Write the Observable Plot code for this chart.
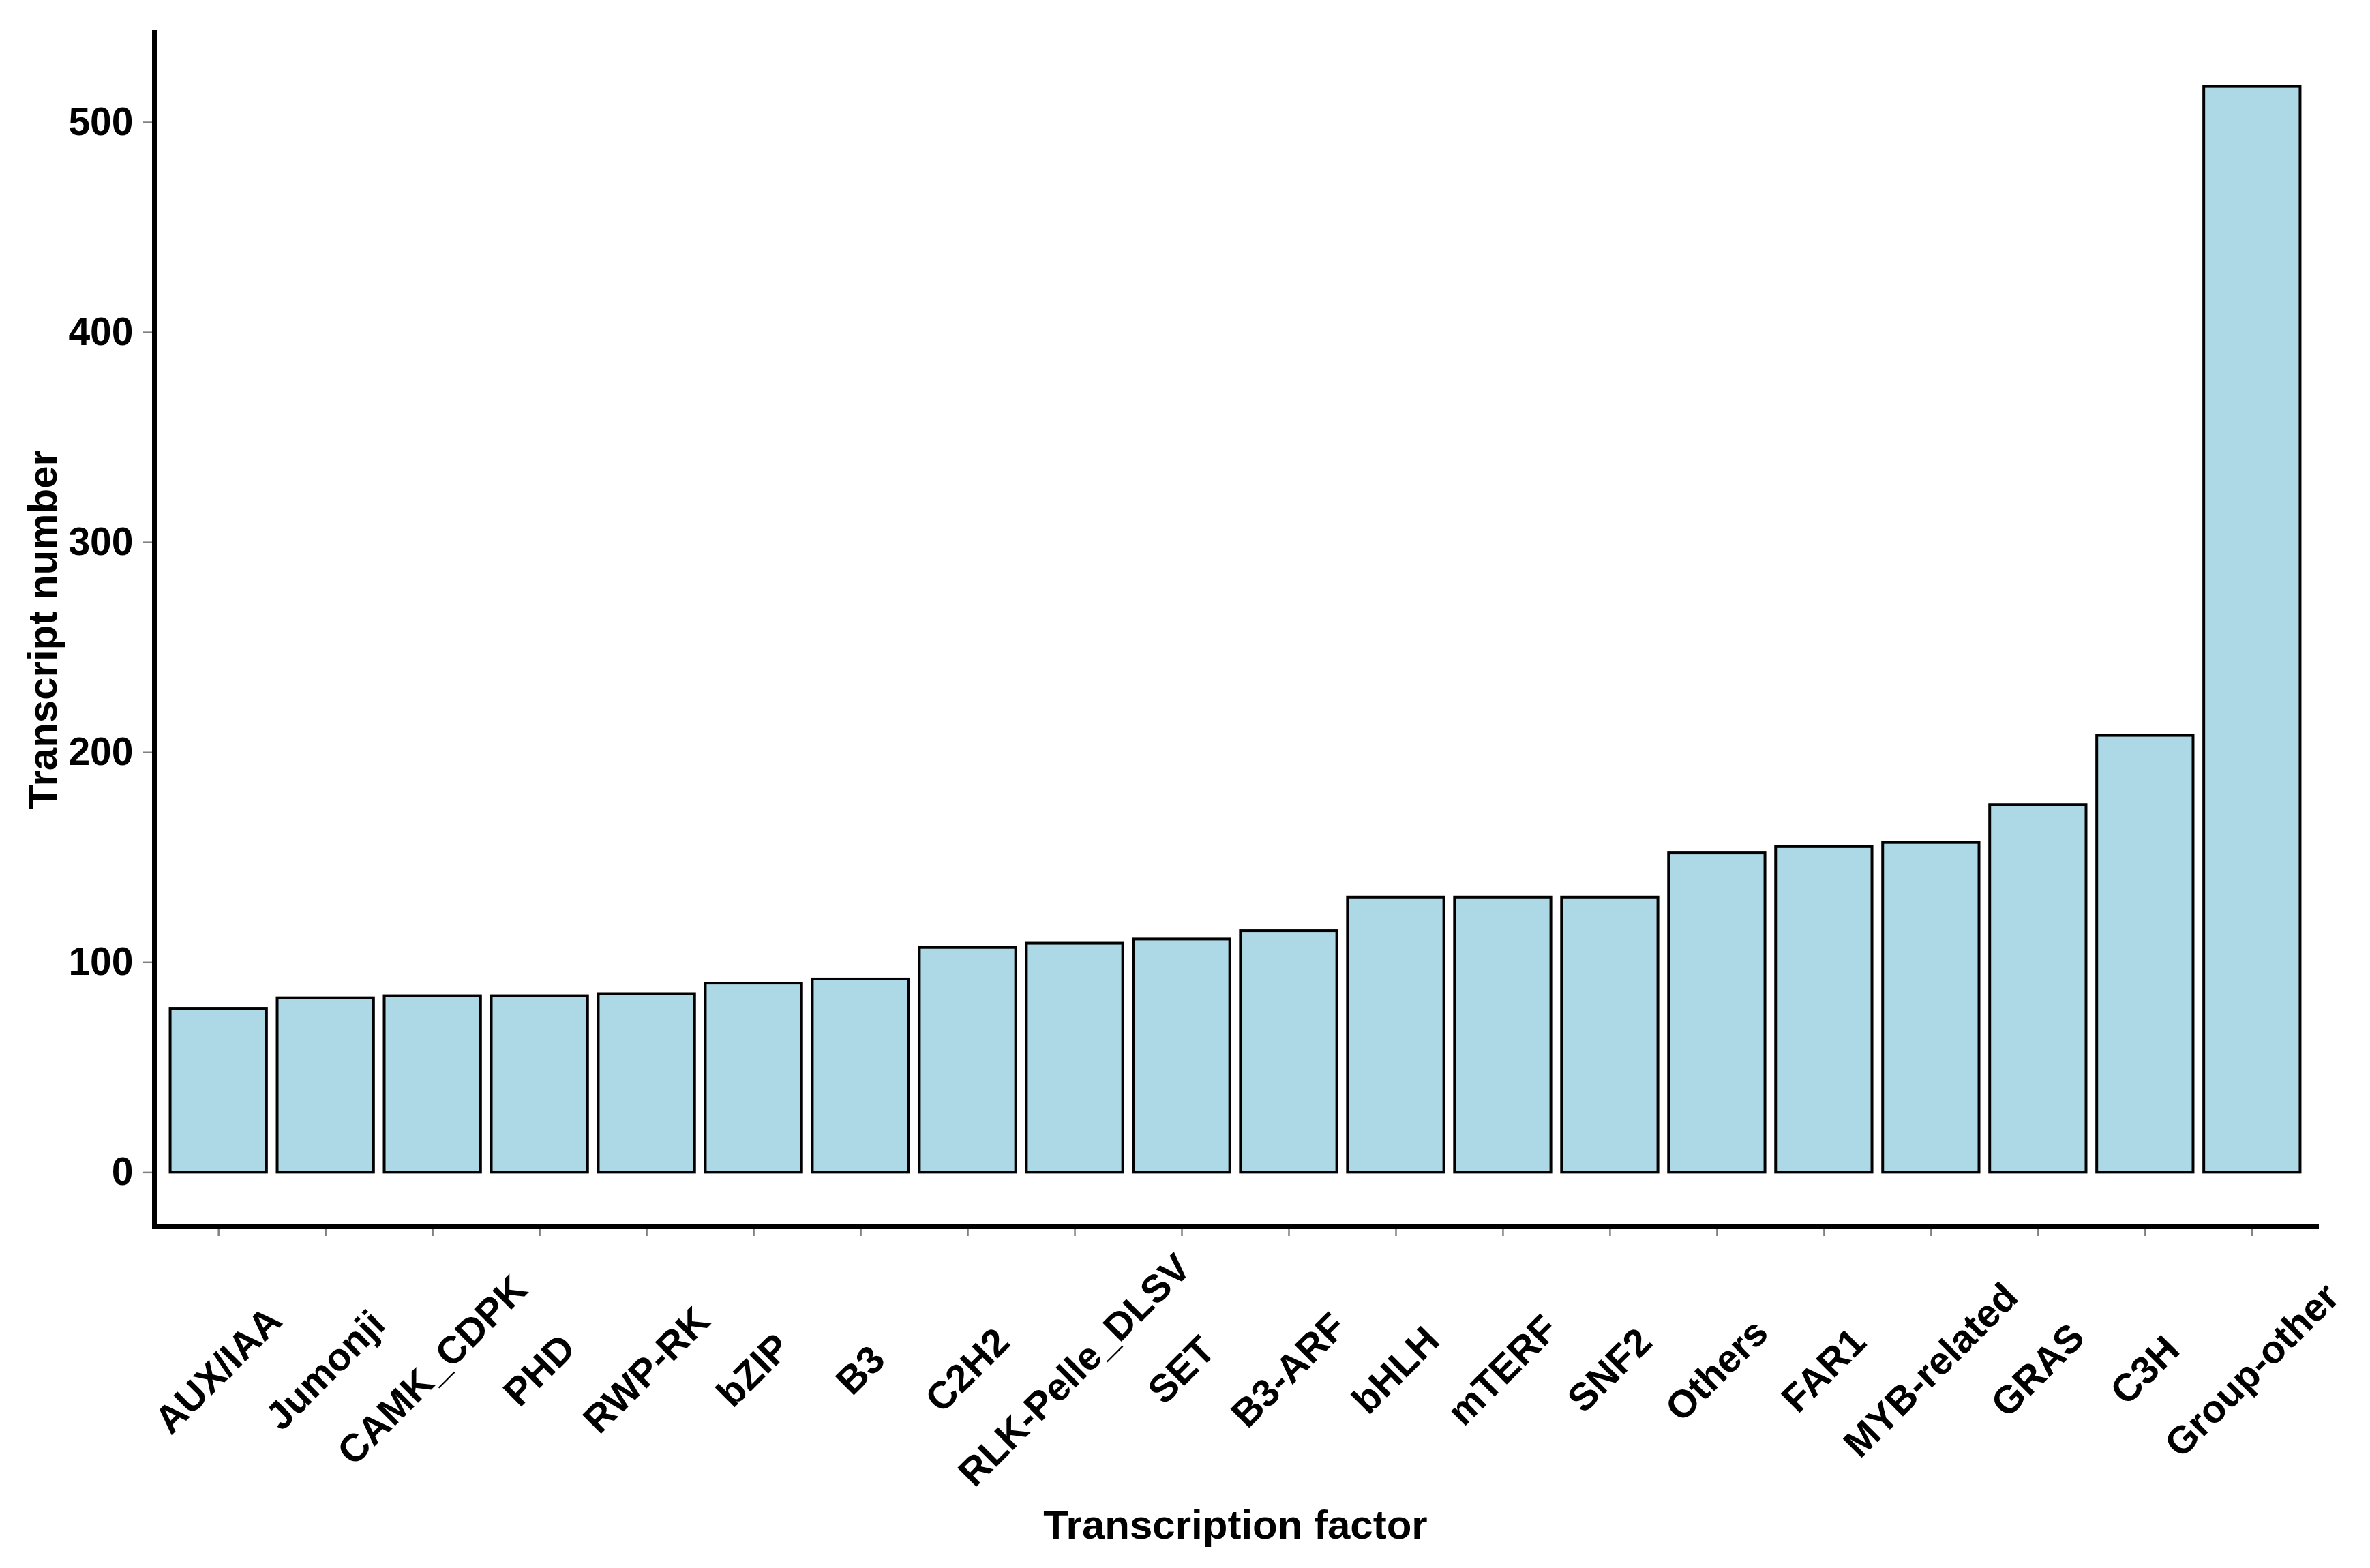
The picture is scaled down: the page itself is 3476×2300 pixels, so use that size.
<!DOCTYPE html>
<html>
<head>
<meta charset="utf-8">
<script src="https://cdn.jsdelivr.net/npm/d3@7"></script>
<script src="https://cdn.jsdelivr.net/npm/@observablehq/plot@0.6"></script>
<style>
  html, body { margin: 0; padding: 0; background: #ffffff; }
  #chart svg { display: block; }
</style>
</head>
<body>
<div id="chart"></div>
<script>
const categories = ["AUX/IAA","Jumonji","CAMK_CDPK","PHD","RWP-RK","bZIP","B3","C2H2","RLK-Pelle_DLSV","SET","B3-ARF","bHLH","mTERF","SNF2","Others","FAR1","MYB-related","GRAS","C3H","Group-other"];
const counts = [78,83,84,84,85,90,92,107,109,111,115,131,131,131,152,155,157,175,208,517];
const yTicks = [0,100,200,300,400,500];
const xTitle = "Transcription factor";
const yTitle = "Transcript number";

const data = categories.map((c, i) => ({category: c, count: counts[i]}));
const maxV = d3.max(counts);
const yDomain = [-0.05 * maxV, maxV * 1.05];

const font = "'Liberation Sans', Arial, Helvetica, sans-serif";

const plot = Plot.plot({
  width: 3476,
  height: 2300,
  marginTop: 47,
  marginBottom: 501,
  marginLeft: 226,
  marginRight: 79,
  style: {fontFamily: font, fontWeight: "bold", background: "#ffffff", color: "#000000"},
  x: {domain: categories, paddingInner: 0.1, paddingOuter: 0.15, round: false, axis: null},
  y: {domain: yDomain, axis: null},
  marks: [
    Plot.barY(data, {x: "category", y: "count", fill: "#ADD8E6", stroke: "#000000", strokeWidth: 4}),
    Plot.axisY({ticks: yTicks, tickSize: 16, tickPadding: 15, stroke: "#808080", strokeWidth: 2.5, fontSize: 57, fontWeight: "bold", fill: "#000000", label: null}),
    Plot.axisX({tickSize: 14, stroke: "#808080", strokeWidth: 2.5, tickRotate: -45, textAnchor: "middle", lineAnchor: "middle", tickPadding: 197, fontSize: 57, fontWeight: "bold", fill: "#000000", label: null}),
    Plot.frame({anchor: "left", stroke: "#000000", strokeWidth: 7}),
    Plot.frame({anchor: "bottom", stroke: "#000000", strokeWidth: 7}),
    Plot.text([yTitle], {frameAnchor: "left", dx: -163, rotate: -90, textAnchor: "middle", lineAnchor: "middle", fontSize: 60, fontWeight: "bold", fill: "#000000"}),
    Plot.text([xTitle], {frameAnchor: "bottom", dy: 457, textAnchor: "middle", lineAnchor: "bottom", fontSize: 60, fontWeight: "bold", fill: "#000000"})
  ]
});
document.getElementById("chart").appendChild(plot);
</script>
</body>
</html>
